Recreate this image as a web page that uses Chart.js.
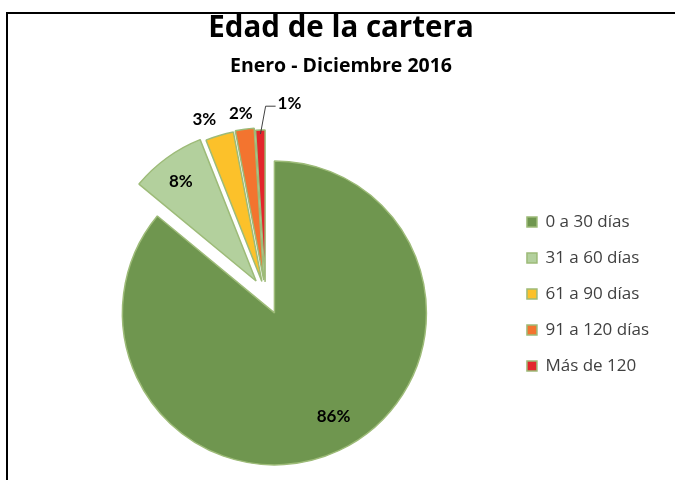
<!DOCTYPE html>
<html>
<head>
<meta charset="utf-8">
<script src="https://cdn.jsdelivr.net/npm/chart.js@4.4.0/dist/chart.umd.min.js"></script>
<style>
  html, body { margin: 0; padding: 0; background: #fff; }
  #wrap { position: relative; width: 675px; height: 480px; }
  #frame { position: absolute; left: 6px; top: 12px; right: 0; bottom: 0; border-top: 2px solid #000; border-left: 2px solid #000; }
  #chart { position: absolute; left: 0; top: 0; }
</style>
</head>
<body>
<div id="wrap">
  <div id="frame"></div>
  <canvas id="chart" width="675" height="480"></canvas>
</div>
<script>
const categories = ['0 a 30 días', '31 a 60 días', '61 a 90 días', '91 a 120 días', 'Más de 120'];
const shares = [86, 8, 3, 2, 1];

const sliceColors = ['#6f964f', '#b3d09d', '#fcc12a', '#f3742f', '#e3262b'];
// how far each slice is pulled away from the centre (px)
const explode = [21, 16, 13, 14, 12];
// label placement: distance as a fraction of the radius, plus a small nudge
const labelDist = [0.79, 0.82, 1.12, 1.10, 1.15];
const labelNudge = [[8, -5], [-2, 1], [-10, 2], [-2, -1], [6, -1]];
const leaderLine = [false, false, false, false, true];

Chart.defaults.font.family = '"Open Sans"';

const legendFont = { family: '"Open Sans"', size: 17 };
// legend is sized by its longest label, so keep the right margin in step with it
const probe = document.createElement('canvas').getContext('2d');
probe.font = legendFont.size + 'px ' + legendFont.family;
const legendTextW = Math.max(...categories.map(c => probe.measureText(c).width));
const padRight = Math.max(0, Math.round(120 - legendTextW));

// move every slice out along its own middle angle
const explodePlugin = {
  id: 'explode',
  afterDatasetUpdate(chart, args) {
    args.meta.data.forEach((arc, i) => {
      const mid = (arc.startAngle + arc.endAngle) / 2;
      arc.x += Math.cos(mid) * explode[i];
      arc.y += Math.sin(mid) * explode[i];
    });
  }
};

const pctLabels = {
  id: 'pctLabels',
  afterDatasetsDraw(chart) {
    const ctx = chart.ctx;
    const meta = chart.getDatasetMeta(0);
    ctx.save();
    ctx.font = 'bold 17px Lato';
    ctx.fillStyle = '#000';
    ctx.textBaseline = 'middle';
    meta.data.forEach((arc, i) => {
      const mid = (arc.startAngle + arc.endAngle) / 2;
      const r = arc.outerRadius;
      const px = arc.x + Math.cos(mid) * r * labelDist[i] + labelNudge[i][0];
      const py = arc.y + Math.sin(mid) * r * labelDist[i] + labelNudge[i][1];
      const txt = shares[i] + '%';
      if (leaderLine[i]) {
        const sx = arc.x + Math.cos(mid) * (r - 4);
        const sy = arc.y + Math.sin(mid) * (r - 4);
        ctx.strokeStyle = '#404040';
        ctx.lineWidth = 1;
        ctx.beginPath();
        ctx.moveTo(sx, sy);
        ctx.lineTo(px, py);
        ctx.lineTo(px + 10, py);
        ctx.stroke();
        ctx.textAlign = 'left';
        ctx.fillText(txt, px + 12, py - 3);
      } else {
        ctx.textAlign = 'center';
        ctx.fillText(txt, px, py);
      }
    });
    ctx.restore();
  }
};

new Chart(document.getElementById('chart'), {
  type: 'pie',
  data: {
    labels: categories,
    datasets: [{
      data: shares,
      backgroundColor: sliceColors,
      borderColor: '#9dbb78',
      borderWidth: 1.5,
    }],
  },
  options: {
    responsive: false,
    animation: false,
    radius: 152,
    layout: { padding: { left: 23, right: padRight, top: 0, bottom: 4 } },
    plugins: {
      title: {
        display: true,
        text: 'Edad de la cartera',
        color: '#000',
        font: { size: 29.5, weight: 'bold' },
        padding: { top: 11, bottom: 0 },
      },
      subtitle: {
        display: true,
        text: 'Enero - Diciembre 2016',
        color: '#000',
        font: { size: 19.5, weight: 'bold' },
        padding: { top: 8, bottom: 34 },
      },
      legend: {
        position: 'right',
        fullSize: false,
        align: 'center',
        labels: {
          color: '#404040',
          font: legendFont,
          boxWidth: 10,
          boxHeight: 10,
          padding: 19,
        },
      },
      tooltip: { enabled: false },
    },
  },
  plugins: [explodePlugin, pctLabels],
});
</script>
</body>
</html>
